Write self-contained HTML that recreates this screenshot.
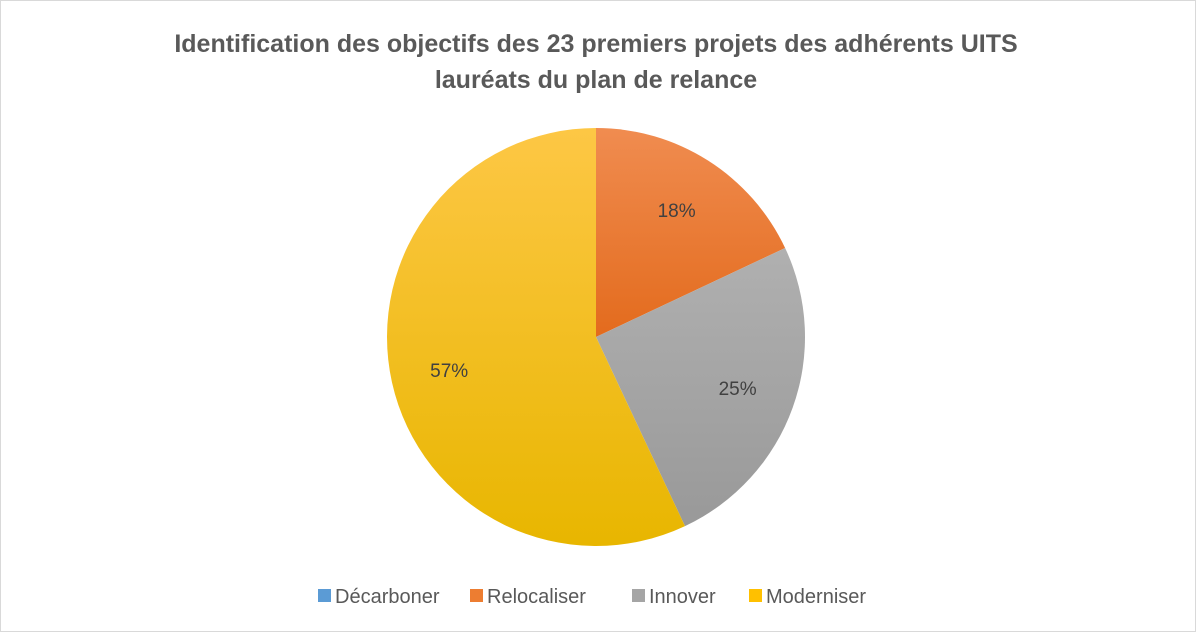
<!DOCTYPE html>
<html><head><meta charset="utf-8"><style>
body{margin:0;background:#fff;}
#c{position:relative;width:1198px;height:634px;overflow:hidden;font-family:"Liberation Sans",sans-serif;}
</style></head><body>
<div id="c">
<svg id="s" width="1198" height="634">
<defs>
<linearGradient id="g0" x1="0" y1="0" x2="0" y2="1"><stop offset="0" stop-color="#6aa8e0"/><stop offset="1" stop-color="#3c7fc4"/></linearGradient>
<linearGradient id="g1" gradientUnits="userSpaceOnUse" x1="0" y1="128" x2="0" y2="337"><stop offset="0" stop-color="#f08c50"/><stop offset="1" stop-color="#e36b1d"/></linearGradient>
<linearGradient id="g2" gradientUnits="userSpaceOnUse" x1="0" y1="248" x2="0" y2="525"><stop offset="0" stop-color="#b0b0b0"/><stop offset="1" stop-color="#999999"/></linearGradient>
<linearGradient id="g3" gradientUnits="userSpaceOnUse" x1="0" y1="128" x2="0" y2="546"><stop offset="0" stop-color="#fdc745"/><stop offset="1" stop-color="#e8b600"/></linearGradient>
</defs>
<rect x="0.5" y="0.5" width="1195" height="631" fill="#fff" stroke="#d9d9d9"/>
<text x="596" y="52" text-anchor="middle" font-size="25" font-weight="bold" fill="#595959">Identification des objectifs des 23 premiers projets des adhérents UITS</text>
<text x="596" y="88" text-anchor="middle" font-size="25" font-weight="bold" fill="#595959">lauréats du plan de relance</text>
<g id="pie"></g>
<g id="legend"></g>
</svg>
</div>
<script>
const categories=["Décarboner","Relocaliser","Innover","Moderniser"];
const values=[0,18,25,57];
const labels=["0%","18%","25%","57%"];
const fills=["url(#g0)","url(#g1)","url(#g2)","url(#g3)"];
const legendColors=["#5b9bd5","#ed7d31","#a5a5a5","#ffc000"];
const cx=596,cy=337,r=209;
const NS="http://www.w3.org/2000/svg";
const pie=document.getElementById('pie');
const total=values.reduce((a,b)=>a+b,0);
function pt(a,rr){return [cx+rr*Math.sin(a),cy-rr*Math.cos(a)];}
let acc=0;
values.forEach((v,i)=>{
  const a0=acc/total*2*Math.PI; acc+=v; const a1=acc/total*2*Math.PI;
  if(v>0){
    const p=document.createElementNS(NS,'path');
    const [x0,y0]=pt(a0,r),[x1,y1]=pt(a1,r);
    const large=(a1-a0)>Math.PI?1:0;
    p.setAttribute('d',`M${cx},${cy}L${x0},${y0}A${r},${r} 0 ${large} 1 ${x1},${y1}Z`);
    p.setAttribute('fill',fills[i]);
    
    
    pie.appendChild(p);
  }
  const am=(a0+a1)/2;
  const lr=v===0?r*0.86:r*0.72;
  const [lx,ly]=pt(am,lr);
  const t=document.createElementNS(NS,'text');
  t.setAttribute('x',lx);t.setAttribute('y',ly+7);
  t.setAttribute('text-anchor','middle');t.setAttribute('font-size','19');t.setAttribute('fill','#404040');
  t.textContent=labels[i];
  
  
  pie.appendChild(t);
});
const lg=document.getElementById('legend');
const lx=[318,470,632,749];
categories.forEach((c,i)=>{
  const g=document.createElementNS(NS,'g');
  
  
  const rc=document.createElementNS(NS,'rect');
  rc.setAttribute('x',lx[i]);rc.setAttribute('y',589);rc.setAttribute('width',13);rc.setAttribute('height',13);rc.setAttribute('fill',legendColors[i]);
  const t=document.createElementNS(NS,'text');
  t.setAttribute('x',lx[i]+17);t.setAttribute('y',603);t.setAttribute('font-size','20');t.setAttribute('fill','#595959');
  t.textContent=c;
  g.appendChild(rc);g.appendChild(t);lg.appendChild(g);
});
</script>
</body></html>
